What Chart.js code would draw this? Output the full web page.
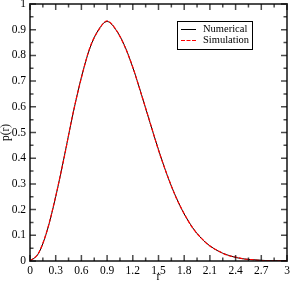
<!DOCTYPE html>
<html>
<head>
<meta charset="utf-8">
<script src="https://cdn.jsdelivr.net/npm/chart.js@4/dist/chart.umd.min.js"></script>
<style>
  html, body { margin: 0; padding: 0; background: #fff; }
  #wrap { width: 291px; height: 282px; }
</style>
</head>
<body>
<div id="wrap"><canvas id="chart" width="291" height="282"></canvas></div>
<script>
// r values and the two curves
const rValues = [0, 0.1, 0.2, 0.3, 0.4, 0.5, 0.6, 0.7, 0.8, 0.9, 1.0, 1.1, 1.2, 1.3, 1.4, 1.5,
  1.6, 1.7, 1.8, 1.9, 2.0, 2.1, 2.2, 2.3, 2.4, 2.5, 2.6, 2.7, 2.8, 2.9, 3.0];
const numericalValues = [0, 0.03, 0.118, 0.25, 0.407, 0.57, 0.715, 0.829, 0.9, 0.932, 0.901, 0.841,
  0.753, 0.649, 0.539, 0.433, 0.335, 0.252, 0.183, 0.129, 0.088, 0.059, 0.038, 0.024, 0.014,
  0.008, 0.005, 0.003, 0.001, 0.001, 0];
const simulationValues = [0, 0.031, 0.119, 0.252, 0.405, 0.572, 0.713, 0.831, 0.898, 0.934, 0.902,
  0.839, 0.754, 0.648, 0.541, 0.431, 0.336, 0.251, 0.184, 0.128, 0.089, 0.058, 0.039, 0.023,
  0.015, 0.008, 0.005, 0.002, 0.001, 0.001, 0];

const xTicks = [0, 0.3, 0.6, 0.9, 1.2, 1.5, 1.8, 2.1, 2.4, 2.7, 3];
const yTicks = [0, 0.1, 0.2, 0.3, 0.4, 0.5, 0.6, 0.7, 0.8, 0.9, 1];

const serif = 'Liberation Serif, "DejaVu Serif", serif';
const frameColor = 'rgba(0,0,0,0.7)';

const toPoints = (ys) => rValues.map((r, i) => ({ x: r, y: ys[i] }));
const fmt = (v) => String(parseFloat(v.toFixed(2)));

// frame on all sides + inward tick marks + legend box
const framePlugin = {
  id: 'frame',
  afterDatasetsDraw(chart) {
    const { ctx, chartArea: a, scales: { x, y } } = chart;
    ctx.save();
    ctx.strokeStyle = frameColor;
    ctx.lineWidth = 1.5;
    ctx.beginPath();
    xTicks.forEach((v, i) => {
      const px = x.getPixelForValue(v);
      ctx.moveTo(px, a.bottom); ctx.lineTo(px, a.bottom - 6);
      ctx.moveTo(px, a.top); ctx.lineTo(px, a.top + 6);
      if (i < xTicks.length - 1) {
        const pm = x.getPixelForValue(v + 0.15);
        ctx.moveTo(pm, a.bottom); ctx.lineTo(pm, a.bottom - 3.5);
        ctx.moveTo(pm, a.top); ctx.lineTo(pm, a.top + 3.5);
      }
    });
    yTicks.forEach((v, i) => {
      const py = y.getPixelForValue(v);
      ctx.moveTo(a.left, py); ctx.lineTo(a.left + 6, py);
      ctx.moveTo(a.right, py); ctx.lineTo(a.right - 6, py);
      if (i < yTicks.length - 1) {
        const pm = y.getPixelForValue(v + 0.05);
        ctx.moveTo(a.left, pm); ctx.lineTo(a.left + 3.5, pm);
        ctx.moveTo(a.right, pm); ctx.lineTo(a.right - 3.5, pm);
      }
    });
    ctx.stroke();
    ctx.lineWidth = 2;
    ctx.strokeRect(a.left, a.top, a.right - a.left, a.bottom - a.top);

    const bx = 177, by = 21, bw = 75, bh = 28;
    ctx.fillStyle = '#fff';
    ctx.fillRect(bx, by, bw, bh);
    ctx.strokeStyle = '#000';
    ctx.lineWidth = 1;
    ctx.strokeRect(bx + 0.5, by + 0.5, bw, bh);
    ctx.font = '10.5px ' + serif;
    ctx.textBaseline = 'middle';
    chart.data.datasets.forEach((ds, i) => {
      const ly = by + 8.5 + i * 11;
      ctx.strokeStyle = ds.borderColor;
      ctx.setLineDash(ds.borderDash || []);
      ctx.beginPath();
      ctx.moveTo(bx + 4, ly); ctx.lineTo(bx + 19, ly);
      ctx.stroke();
      ctx.setLineDash([]);
      ctx.fillStyle = '#000';
      ctx.fillText(ds.label, bx + 26, ly);
    });
    ctx.restore();
  }
};

new Chart(document.getElementById('chart'), {
  type: 'line',
  data: {
    datasets: [
      {
        label: 'Numerical',
        data: toPoints(numericalValues),
        borderColor: '#000',
        borderWidth: 1,
        pointRadius: 0,
        order: 2,
        cubicInterpolationMode: 'monotone',
      },
      {
        label: 'Simulation',
        data: toPoints(simulationValues),
        borderColor: '#ff0000',
        borderWidth: 1.2,
        borderDash: [4, 1.5],
        pointRadius: 0,
        order: 1,
        cubicInterpolationMode: 'monotone',
      },
    ],
  },
  options: {
    responsive: false,
    animation: false,
    layout: { padding: { top: 4, right: 4, left: 0, bottom: 0 } },
    plugins: { legend: { display: false }, tooltip: { enabled: false } },
    scales: {
      x: {
        type: 'linear',
        min: 0,
        max: 3,
        afterBuildTicks: (s) => { s.ticks = xTicks.map((v) => ({ value: v })); },
        afterFit: (s) => { s.height = 21; s.paddingLeft = 0; s.paddingRight = 0; },
        grid: { display: false, drawTicks: false },
        border: { display: false },
        ticks: { color: '#000', padding: 3, maxRotation: 0, autoSkip: false, font: { family: serif, size: 11.5 }, callback: fmt },
        title: { display: true, text: 'r', color: '#000', padding: { top: 0, bottom: -1 }, font: { family: serif, size: 11.5, lineHeight: 1 } },
      },
      y: {
        min: 0,
        max: 1,
        afterBuildTicks: (s) => { s.ticks = yTicks.map((v) => ({ value: v })); },
        afterFit: (s) => { s.width = 30; s.paddingTop = 0; s.paddingBottom = 0; },
        grid: { display: false, drawTicks: false },
        border: { display: false },
        ticks: { color: '#000', padding: 4, autoSkip: false, font: { family: serif, size: 11.5 }, callback: fmt },
        title: { display: true, text: 'p(r)', color: '#000', padding: 0, font: { family: serif, size: 11.5, lineHeight: 1 } },
      },
    },
  },
  plugins: [framePlugin],
});
</script>
</body>
</html>
